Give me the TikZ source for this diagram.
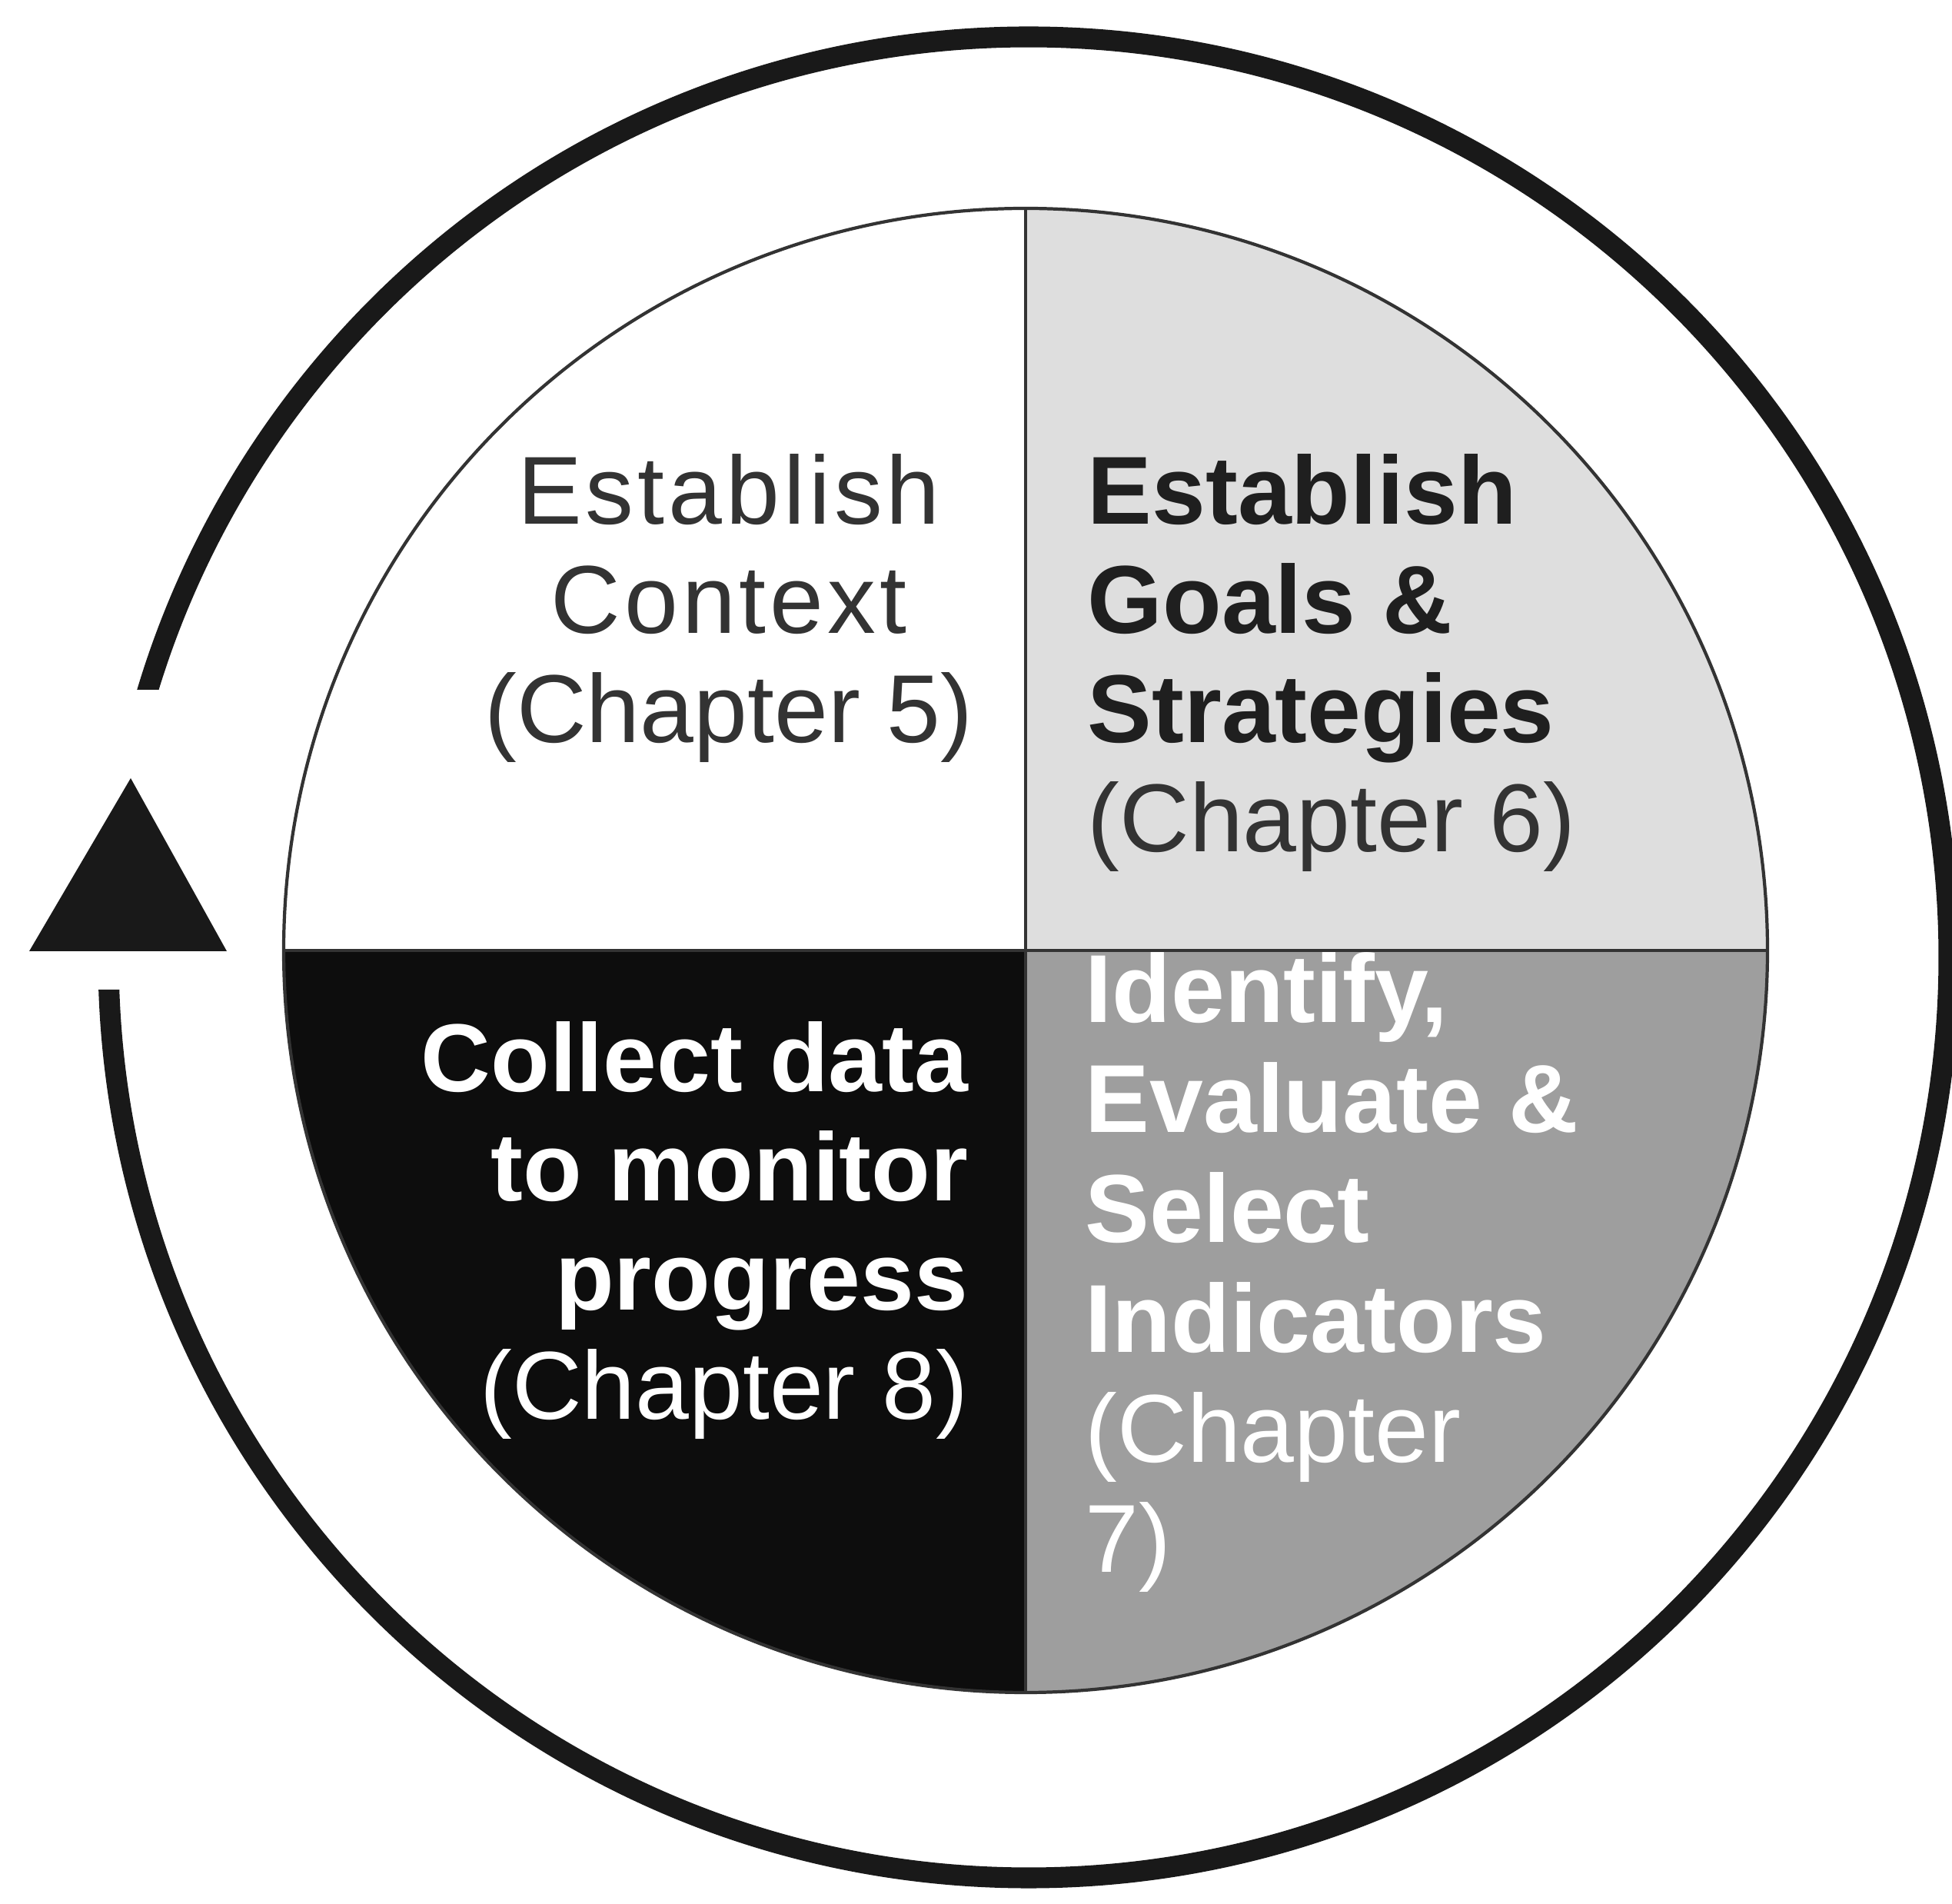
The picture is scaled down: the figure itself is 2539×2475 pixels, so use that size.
\documentclass[tikz,border=0pt]{standalone}
\usepackage{fontspec}
\setmainfont{Liberation Sans}
\usetikzlibrary{calc}
\definecolor{ringc}{gray}{0.1}
\definecolor{lineq}{gray}{0.2}
\definecolor{lightq}{gray}{0.87}
\definecolor{midq}{gray}{0.62}
\definecolor{darkq}{gray}{0.05}
\definecolor{darktext}{gray}{0.2}
\definecolor{boldtext}{gray}{0.12}
\begin{document}
\begin{tikzpicture}[x=0.01cm,y=0.01cm,
  ring/.style={line width=7.7pt, draw=ringc},
  pieline/.style={line width=1.2pt, draw=lineq},
  lbl/.style={inner sep=0pt, font=\fontsize{35.7}{40.4}\selectfont},
  tl/.style={lbl, anchor=base, text=darktext},
  tr/.style={lbl, anchor=base west, text=boldtext},
  bl/.style={lbl, anchor=base east, text=white},
  br/.style={lbl, anchor=base west, text=white},
  arrowhead/.style={fill=ringc, draw=none}
]
\useasboundingbox (0,0) rectangle (2539,2475);
\fill[white] (0,0) rectangle (2539,2475);

% outer cycle ring with a gap on the left
\coordinate (rc) at (1338,1230);
\begin{scope}
  \clip (0,0) -- (2539,0) -- (2539,2475) -- (0,2475) -- (0,1578) -- (330,1578) -- (330,1188) -- (0,1188) -- cycle;
  \draw[ring] (rc) circle[radius=1197];
\end{scope}
% arrow head
\coordinate (tA) at (170,1463);
\coordinate (tB) at (38,1238);
\coordinate (tC) at (295,1238);
\fill[arrowhead] (tA) -- (tB) -- (tC) -- cycle;

% pie quadrants
\coordinate (pc) at (1334,1239);
\fill[white]  (pc) -- ++(90:965)  arc[start angle=90,  end angle=180, radius=965] -- cycle;
\fill[lightq] (pc) -- ++(0:965)   arc[start angle=0,   end angle=90,  radius=965] -- cycle;
\fill[midq]   (pc) -- ++(270:965) arc[start angle=270, end angle=360, radius=965] -- cycle;
\fill[darkq]  (pc) -- ++(180:965) arc[start angle=180, end angle=270, radius=965] -- cycle;
\draw[pieline] (pc) circle[radius=965];
\draw[pieline] ($(pc)+(0,965)$) -- ($(pc)+(0,-965)$);
\draw[pieline] ($(pc)+(-965,0)$) -- ($(pc)+(965,0)$);

% top-left text
\node[tl] (tl1) at (948,1793) {\addfontfeature{LetterSpace=4}Establish};
\node[tl] (tl2) at (948,1651) {\addfontfeature{LetterSpace=4}Context};
\node[tl] (tl3) at (948,1509) {(Chapter 5)};

% top-right text
\node[tr] (tr1) at (1414,1793) {\bfseries Establish};
\node[tr] (tr2) at (1414,1651) {\bfseries Goals \&};
\node[tr] (tr3) at (1414,1509) {\bfseries Strategies};
\node[tr, text=darktext] (tr4) at (1414,1367) {(Chapter 6)};

% bottom-left text
\node[bl] (bl1) at (1260,1055) {\bfseries Collect data};
\node[bl] (bl2) at (1260,913) {\bfseries to monitor};
\node[bl] (bl3) at (1260,771) {\bfseries progress};
\node[bl] (bl4) at (1260,629) {(Chapter 8)};

% bottom-right text
\node[br] (br1) at (1411,1145) {\bfseries Identify,};
\node[br] (br2) at (1411,1002) {\bfseries Evaluate \&};
\node[br] (br3) at (1411,859) {\bfseries Select};
\node[br] (br4) at (1411,716) {\bfseries Indicators};
\node[br] (br5) at (1411,573) {(Chapter};
\node[br] (br6) at (1411,430) {7)};
\end{tikzpicture}
\end{document}
